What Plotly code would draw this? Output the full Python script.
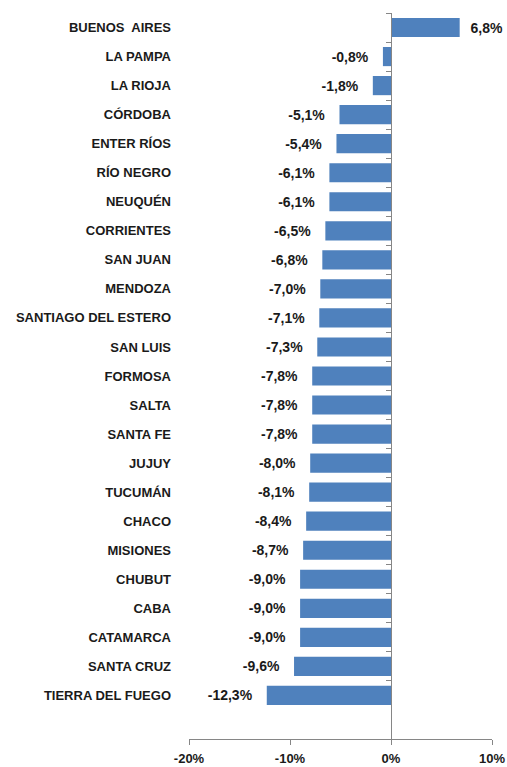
import plotly.graph_objects as go

provinces = ["BUENOS\u00a0 AIRES", "LA PAMPA", "LA RIOJA", "CÓRDOBA", "ENTER RÍOS", "RÍO NEGRO",
             "NEUQUÉN", "CORRIENTES", "SAN JUAN", "MENDOZA", "SANTIAGO DEL ESTERO", "SAN LUIS",
             "FORMOSA", "SALTA", "SANTA FE", "JUJUY", "TUCUMÁN", "CHACO", "MISIONES", "CHUBUT",
             "CABA", "CATAMARCA", "SANTA CRUZ", "TIERRA DEL FUEGO"]
values = [6.8, -0.8, -1.8, -5.1, -5.4, -6.1, -6.1, -6.5, -6.8, -7.0, -7.1, -7.3, -7.8, -7.8,
          -7.8, -8.0, -8.1, -8.4, -8.7, -9.0, -9.0, -9.0, -9.6, -12.3]
x_ticks = [-20, -10, 0, 10]
x_tick_labels = ["-20%", "-10%", "0%", "10%"]

FONT = "Liberation Sans"
TXT = "#1a1a1a"
AXIS = "#868686"
NB = "\u00a0"

labels = [(NB * 2 + f"{v:.1f}".replace(".", ",") + "%") if v > 0
          else (f"{v:.1f}".replace(".", ",") + "%" + NB * 3)
          for v in values]

fig = go.Figure()
fig.add_trace(go.Bar(
    x=values, y=provinces, orientation="h",
    marker=dict(color="#4F81BD", line=dict(width=0)),
    text=labels, textposition="outside", cliponaxis=False,
    textfont=dict(family=FONT, size=14, color=TXT, weight="bold"),
    hoverinfo="skip",
))
fig.add_trace(go.Scatter(
    x=[0] * len(provinces), y=provinces, yaxis="y2", mode="markers",
    marker=dict(opacity=0), hoverinfo="skip", showlegend=False,
))

yrange = [len(provinces) + 0.5, -0.5]
fig.update_layout(
    width=507, height=767,
    margin=dict(l=189, r=15, t=13, b=28),
    paper_bgcolor="white", plot_bgcolor="white",
    showlegend=False,
    bargap=0.34,
    xaxis=dict(
        range=[-20, 10], tickvals=x_ticks, ticktext=x_tick_labels,
        showgrid=False, zeroline=False, showline=True, linecolor=AXIS, linewidth=1,
        ticks="outside", ticklen=5, tickcolor=AXIS, tickwidth=1,
        ticklabelstandoff=2, automargin=False,
        tickfont=dict(family=FONT, size=13, color=TXT, weight="bold"),
        fixedrange=True,
    ),
    yaxis=dict(
        type="category", categoryorder="array", categoryarray=provinces,
        range=yrange, showgrid=False, zeroline=False, showline=False, ticks="",
        ticklabelstandoff=17, automargin=False,
        tickfont=dict(family=FONT, size=13, color=TXT, weight="bold"),
    ),
    yaxis2=dict(
        type="category", categoryorder="array", categoryarray=provinces,
        range=yrange, overlaying="y", anchor="free", position=2 / 3, side="left",
        showgrid=False, zeroline=False, showline=True, linecolor=AXIS, linewidth=1,
        ticks="outside", tickson="boundaries", ticklen=5, tickcolor=AXIS, tickwidth=1,
        showticklabels=False, automargin=False,
    ),
)

fig.write_html("out.html", config={"displayModeBar": False},
               post_script="document.body.style.margin='0';document.body.style.overflow='hidden';")
